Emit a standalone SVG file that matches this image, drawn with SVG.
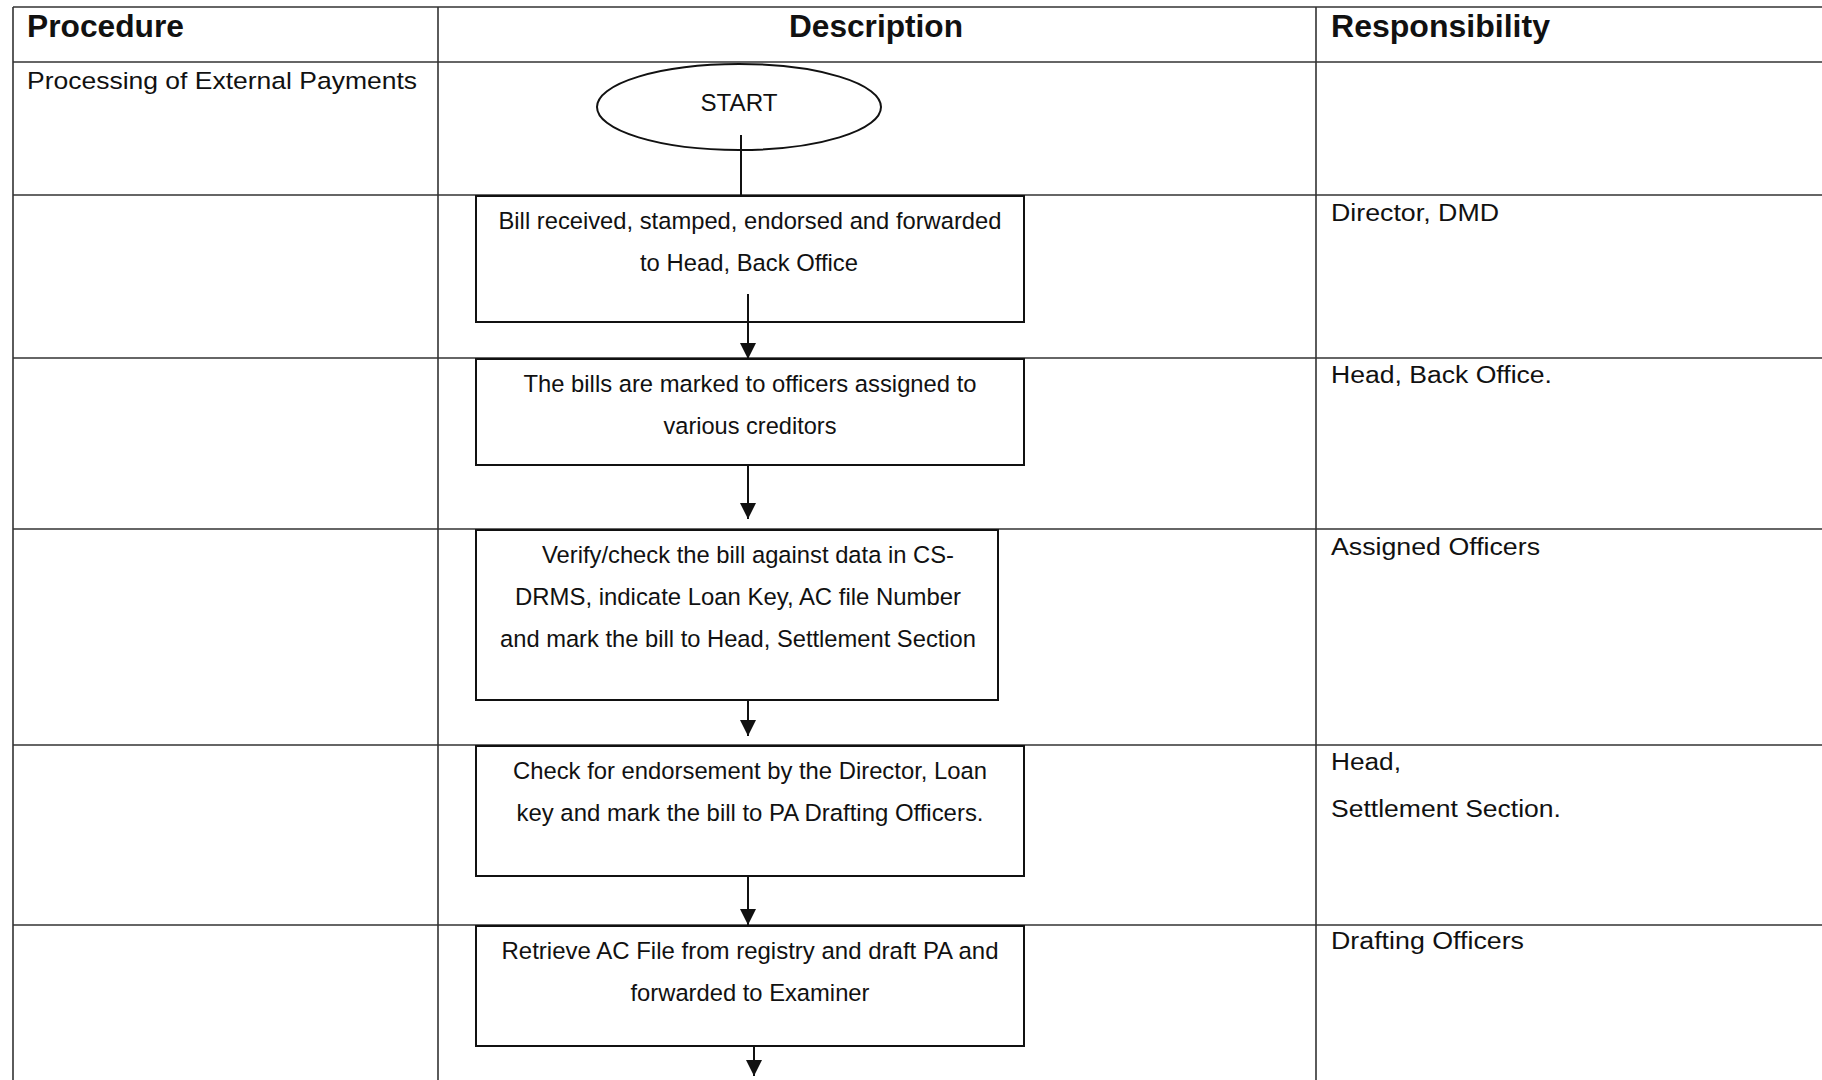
<svg xmlns="http://www.w3.org/2000/svg" width="1822" height="1080" viewBox="0 0 1822 1080">
<style>
.grid{stroke:#333;stroke-width:1.6;fill:none}
.box{fill:#fff;stroke:#111;stroke-width:2}
.conn{stroke:#111;stroke-width:2;fill:none}
.hdr{font-family:"Liberation Sans",Arial,sans-serif;font-weight:bold;font-size:31px;fill:#111}
.t{font-family:"Liberation Sans",Arial,sans-serif;font-size:24.5px;fill:#111}
.r{font-family:"Liberation Sans",Arial,sans-serif;font-size:23px;fill:#111}
</style>
<defs>
<marker id="ah" markerWidth="16" markerHeight="16" refX="16" refY="8" orient="auto" markerUnits="userSpaceOnUse">
<path d="M0,0 L16,8 L0,16 Z" fill="#111"/>
</marker>
</defs>
<rect width="1822" height="1080" fill="#fff"/>
<g id="table">
<line class="grid" x1="13" y1="7" x2="1822" y2="7"/>
<line class="grid" x1="13" y1="62" x2="1822" y2="62"/>
<line class="grid" x1="13" y1="195" x2="1822" y2="195"/>
<line class="grid" x1="13" y1="358" x2="1822" y2="358"/>
<line class="grid" x1="13" y1="529" x2="1822" y2="529"/>
<line class="grid" x1="13" y1="745" x2="1822" y2="745"/>
<line class="grid" x1="13" y1="925" x2="1822" y2="925"/>
<line class="grid" x1="13" y1="7" x2="13" y2="1080"/>
<line class="grid" x1="438" y1="7" x2="438" y2="1080"/>
<line class="grid" x1="1316" y1="7" x2="1316" y2="1080"/>
<text class="hdr" x="27" y="37" textLength="157" lengthAdjust="spacingAndGlyphs">Procedure</text>
<text class="hdr" x="789" y="37" textLength="174" lengthAdjust="spacingAndGlyphs">Description</text>
<text class="hdr" x="1331" y="37" textLength="219" lengthAdjust="spacingAndGlyphs">Responsibility</text>
<text class="t" x="27" y="89" font-size="25.5" textLength="390" lengthAdjust="spacingAndGlyphs">Processing of External Payments</text>
</g>
<g id="responsibility">
<text class="r" x="1331" y="221" textLength="168" lengthAdjust="spacingAndGlyphs">Director, DMD</text>
<text class="r" x="1331" y="383" textLength="221" lengthAdjust="spacingAndGlyphs">Head, Back Office.</text>
<text class="r" x="1331" y="555" textLength="209" lengthAdjust="spacingAndGlyphs">Assigned Officers</text>
<text class="r" x="1331" y="770" textLength="70" lengthAdjust="spacingAndGlyphs">Head,</text>
<text class="r" x="1331" y="817" textLength="230" lengthAdjust="spacingAndGlyphs">Settlement Section.</text>
<text class="r" x="1331" y="949" textLength="193" lengthAdjust="spacingAndGlyphs">Drafting Officers</text>
</g>
<g id="start">
<ellipse class="box" cx="739" cy="107" rx="142" ry="43"/>
<text class="t" x="739" y="111" text-anchor="middle" font-size="23" textLength="77" lengthAdjust="spacingAndGlyphs">START</text>
</g>
<g id="step1">
<rect class="box" x="476" y="196" width="548" height="126"/>
<text class="t" x="750" y="229" text-anchor="middle" textLength="503" lengthAdjust="spacingAndGlyphs">Bill received, stamped, endorsed and forwarded</text>
<text class="t" x="749" y="271" text-anchor="middle" textLength="218" lengthAdjust="spacingAndGlyphs">to Head, Back Office</text>
</g>
<g id="step2">
<rect class="box" x="476" y="359" width="548" height="106"/>
<text class="t" x="750" y="392" text-anchor="middle" textLength="453" lengthAdjust="spacingAndGlyphs">The bills are marked to officers assigned to</text>
<text class="t" x="750" y="434" text-anchor="middle" textLength="173" lengthAdjust="spacingAndGlyphs">various creditors</text>
</g>
<g id="step3">
<rect class="box" x="476" y="530" width="522" height="170"/>
<text class="t" x="748" y="563" text-anchor="middle" textLength="412" lengthAdjust="spacingAndGlyphs">Verify/check the bill against data in CS-</text>
<text class="t" x="738" y="605" text-anchor="middle" textLength="446" lengthAdjust="spacingAndGlyphs">DRMS, indicate Loan Key, AC file Number</text>
<text class="t" x="738" y="647" text-anchor="middle" textLength="476" lengthAdjust="spacingAndGlyphs">and mark the bill to Head, Settlement Section</text>
</g>
<g id="step4">
<rect class="box" x="476" y="746" width="548" height="130"/>
<text class="t" x="750" y="779" text-anchor="middle" textLength="474" lengthAdjust="spacingAndGlyphs">Check for endorsement by the Director, Loan</text>
<text class="t" x="750" y="821" text-anchor="middle" textLength="467" lengthAdjust="spacingAndGlyphs">key and mark the bill to PA Drafting Officers.</text>
</g>
<g id="step5">
<rect class="box" x="476" y="926" width="548" height="120"/>
<text class="t" x="750" y="959" text-anchor="middle" textLength="497" lengthAdjust="spacingAndGlyphs">Retrieve AC File from registry and draft PA and</text>
<text class="t" x="750" y="1001" text-anchor="middle" textLength="239" lengthAdjust="spacingAndGlyphs">forwarded to Examiner</text>
</g>
<g id="connectors">
<line class="conn" x1="741" y1="135" x2="741" y2="196"/>
<line class="conn" x1="748" y1="294" x2="748" y2="359" marker-end="url(#ah)"/>
<line class="conn" x1="748" y1="465" x2="748" y2="519" marker-end="url(#ah)"/>
<line class="conn" x1="748" y1="700" x2="748" y2="736" marker-end="url(#ah)"/>
<line class="conn" x1="748" y1="876" x2="748" y2="925" marker-end="url(#ah)"/>
<line class="conn" x1="754" y1="1046" x2="754" y2="1076" marker-end="url(#ah)"/>
</g>
</svg>
